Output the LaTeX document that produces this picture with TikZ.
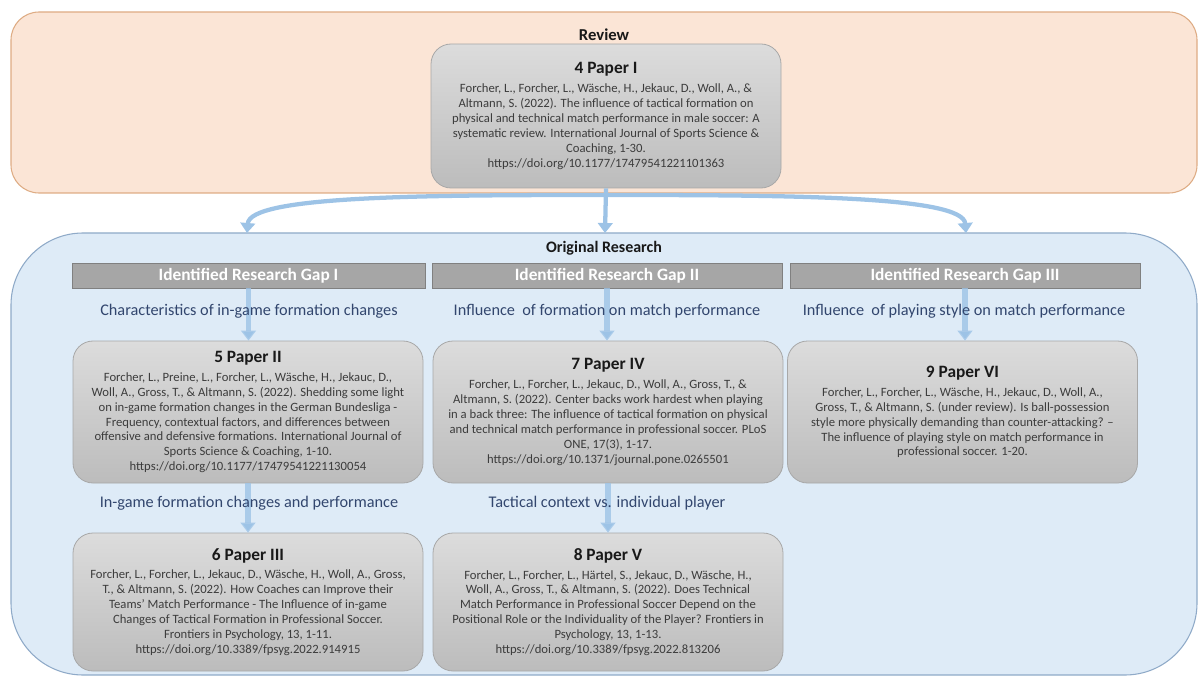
\documentclass[tikz,border=0pt]{standalone}
\usepackage{fontspec}
\setmainfont{Carlito}
\usetikzlibrary{arrows.meta}

\definecolor{revfill}{RGB}{251,229,214}
\definecolor{revline}{RGB}{222,172,132}
\definecolor{orgfill}{RGB}{222,235,247}
\definecolor{orgline}{RGB}{143,170,200}
\definecolor{flowblue}{RGB}{157,195,230}
\definecolor{bargray}{RGB}{166,166,166}
\definecolor{barline}{RGB}{128,128,128}
\definecolor{boxtop}{RGB}{220,220,220}
\definecolor{boxbot}{RGB}{188,188,188}
\definecolor{boxline}{RGB}{168,168,168}
\definecolor{bodytext}{RGB}{60,60,60}
\definecolor{labeltext}{RGB}{50,70,110}

\newcommand\papertitle[1]{{\fontsize{13}{15}\selectfont\bfseries\color{black!90}#1}}

\begin{document}
\begin{tikzpicture}[
  x=0.75pt, y=-0.75pt,
  container/.style={line width=0.8pt, inner sep=0pt},
  paperbox/.style={draw=boxline, line width=0.6pt, rounded corners=15pt,
    top color=boxtop, bottom color=boxbot, minimum width=262.5pt,
    align=center, text=bodytext, inner sep=0pt,
    font=\fontsize{9.5}{11.2}\selectfont},
  gapbar/.style={draw=barline, line width=0.5pt, fill=bargray,
    minimum width=262.5pt, minimum height=18.75pt, inner sep=0pt,
    text=white, font=\fontsize{13}{15}\selectfont\bfseries},
  gaplabel/.style={text=labeltext, font=\fontsize{12.2}{14}\selectfont, inner sep=0pt},
  heading/.style={font=\fontsize{12.5}{15}\selectfont\bfseries, text=black!90, inner sep=0pt},
  flow/.style={draw=flowblue, line width=3.2pt,
    -{Triangle[width=11pt,length=7.5pt]}},
  colflow/.style={draw=flowblue, line width=3.8pt, draw opacity=0.8,
    -{Triangle[width=11pt,length=7.5pt]}},
]
\useasboundingbox (0,0) rectangle (1199,677);

% outer containers
\node[container, draw=revline, fill=revfill, rounded corners=21pt,
  minimum width=889.5pt, minimum height=135.75pt] (rev) at (604,102.5) {};
\node[container, draw=orgline, fill=orgfill, rounded corners=54pt,
  minimum width=889.5pt, minimum height=331.5pt] (orig) at (604,454) {};

\node[heading] (revtitle) at (604,35) {Review};
\node[heading, font=\fontsize{12}{14}\selectfont\bfseries] (origtitle) at (604,248) {Original Research};

% review paper
\node[paperbox, minimum height=108pt] (p1) at (606,116) {%
  \papertitle{4 Paper I}\\[3pt]
  Forcher, L., Forcher, L., Wäsche, H., Jekauc, D., Woll, A., \&\\
  Altmann, S. (2022). The  influence of tactical formation on\\
  physical and technical match performance in male soccer: A\\
  systematic review. International Journal of Sports Science \&\\
  Coaching, 1-30.\\
  https://doi.org/10.1177/17479541221101363};

% connectors from the review to the original research
\coordinate (fork) at (605,195);
\coordinate (endL) at (247,233);
\coordinate (endM) at (605,233);
\coordinate (endR) at (966,233);
\draw[flow] (fork) .. controls (420,195) and (250,196) .. (endL);
\draw[flow] (fork) .. controls (790,195) and (963,196) .. (endR);
\draw[flow] (p1.south) -- (endM);

% research gap bars
\node[gapbar, minimum width=264.75pt] (g1) at (248.5,275.5) {Identified Research Gap I};
\node[gapbar] (g2) at (607,275.5) {Identified Research Gap II};
\node[gapbar] (g3) at (965,275.5) {Identified Research Gap III};

% papers
\node[paperbox, minimum height=106.5pt] (p2) at (248,412) {%
  \papertitle{5 Paper II}\\[3pt]
  Forcher, L., Preine, L., Forcher, L., Wäsche, H., Jekauc, D.,\\
  Woll, A., Gross, T., \& Altmann, S. (2022). Shedding some light\\
  on in-game formation changes in the German Bundesliga -\\
  Frequency, contextual factors, and differences between\\
  offensive and defensive formations. International Journal of\\
  Sports Science \& Coaching, 1-10.\\
  https://doi.org/10.1177/17479541221130054};

\node[paperbox, minimum height=103.5pt] (p3) at (248,602) {%
  \papertitle{6 Paper III}\\[3pt]
  Forcher, L., Forcher, L., Jekauc, D., Wäsche, H., Woll, A., Gross,\\
  T., \& Altmann, S. (2022). How Coaches can Improve their\\
  Teams' Match Performance - The Influence of in-game\\
  Changes of Tactical Formation in Professional Soccer.\\
  Frontiers in Psychology, 13, 1-11.\\
  https://doi.org/10.3389/fpsyg.2022.914915};

\node[paperbox, minimum height=106.5pt] (p4) at (608,412) {%
  \papertitle{7 Paper IV}\\[3pt]
  Forcher, L., Forcher, L., Jekauc, D., Woll, A., Gross, T., \&\\
  Altmann, S. (2022). Center backs work hardest when playing\\
  in a back three:  The influence of tactical formation on physical\\
  and technical match performance in professional soccer. PLoS\\
  ONE, 17(3), 1-17.\\
  https://doi.org/10.1371/journal.pone.0265501};

\node[paperbox, minimum height=103.5pt] (p5) at (608,602) {%
  \papertitle{8 Paper V}\\[3pt]
  Forcher, L., Forcher, L., Härtel, S., Jekauc, D., Wäsche, H.,\\
  Woll, A., Gross, T., \& Altmann, S. (2022). Does Technical\\
  Match Performance in Professional Soccer Depend on the\\
  Positional Role or the Individuality of the Player? Frontiers in\\
  Psychology, 13, 1-13.\\
  https://doi.org/10.3389/fpsyg.2022.813206};

\node[paperbox, minimum height=106.5pt] (p6) at (962.5,412) {%
  \papertitle{9 Paper VI}\\[3pt]
  Forcher, L., Forcher, L., Wäsche, H., Jekauc, D., Woll, A.,\\
  Gross, T., \& Altmann, S. (under review). Is ball-possession\\
  style more physically demanding than counter-attacking? –\\
  The influence of playing style on match performance in\\
  professional soccer. 1-20.};

% arrows inside the columns
\draw[colflow] (g1.south) -- (g1.south |- p2.north);
\draw[colflow] (g2.south) -- (g2.south |- p4.north);
\draw[colflow] (g3.south) -- (g3.south |- p6.north);
\draw[colflow] (p2.south) -- (p3.north);
\draw[colflow] (p4.south) -- (p5.north);

% gap descriptions
\node[gaplabel] (l1) at (249,311) {Characteristics of in-game formation changes};
\node[gaplabel] (l2) at (607,311) {Influence\ \ of formation on match performance};
\node[gaplabel] (l3) at (964,311) {Influence\ \ of playing style on match performance};
\node[gaplabel] (l4) at (249,503) {In-game formation changes and performance};
\node[gaplabel] (l5) at (607,503) {Tactical context vs. individual player};
\end{tikzpicture}
\end{document}
